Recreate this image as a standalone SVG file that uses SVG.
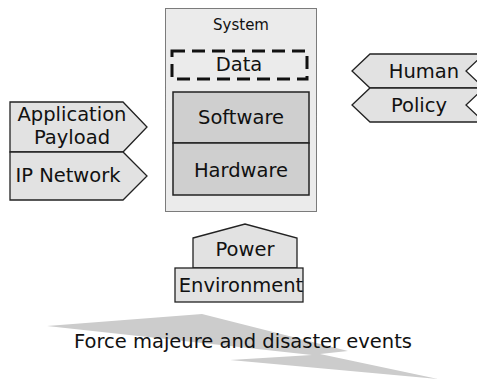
<svg xmlns="http://www.w3.org/2000/svg" width="477" height="380" viewBox="0 0 477 380">
<style>
text{font-family:"DejaVu Sans","Liberation Sans",sans-serif;fill:#111;text-anchor:middle}
.lbl{font-size:19.5px}
.shape{fill:#e2e2e2;stroke:#222;stroke-width:1.3}
.dark{fill:#cfcfcf;stroke:#222;stroke-width:1.5}
</style>
<g id="force-majeure">
<polygon points="47,326 202,314 348,351 320,354 438,379 230,360 312,355" fill="#cccccc"/>
<text class="lbl" x="243" y="348">Force majeure and disaster events</text>
</g>
<g id="system">
<rect x="165.5" y="8.5" width="151" height="203" fill="#ebebeb" stroke="#000" stroke-width="1" stroke-dasharray="1,1"/>
<text x="241" y="30" font-size="15px">System</text>
</g>
<g id="data">
<rect x="172" y="51" width="135" height="28" fill="none" stroke="#111" stroke-width="3" stroke-dasharray="13,7"/>
<text class="lbl" x="239" y="71">Data</text>
</g>
<g id="software">
<rect x="173" y="92" width="136" height="51" class="dark"/>
<text class="lbl" x="241" y="124">Software</text>
</g>
<g id="hardware">
<rect x="173" y="143" width="136" height="52" class="dark"/>
<text class="lbl" x="241" y="177">Hardware</text>
</g>
<g id="application-payload">
<polygon points="10,102 123,102 147,127 123,152 10,152" class="shape"/>
<text class="lbl" x="72" y="121">Application</text>
<text class="lbl" x="72" y="144">Payload</text>
</g>
<g id="ip-network">
<polygon points="10,152 123,152 147,176 123,200 10,200" class="shape"/>
<text class="lbl" x="68" y="182">IP Network</text>
</g>
<g id="human">
<polygon points="352,71 370,54 484,54 466,71 484,88 370,88" class="shape"/>
<text class="lbl" x="424" y="78">Human</text>
</g>
<g id="policy">
<polygon points="352,105 370,88 484,88 466,105 484,122 370,122" class="shape"/>
<text class="lbl" x="419" y="112">Policy</text>
</g>
<g id="power">
<polygon points="193,238 245,224 297,238 297,268 193,268" class="shape"/>
<text class="lbl" x="245" y="256">Power</text>
</g>
<g id="environment">
<rect x="175" y="268" width="128" height="34" class="shape" stroke-width="1.5"/>
<text class="lbl" x="241" y="292">Environment</text>
</g>
<g id="connectors"></g>
</svg>
